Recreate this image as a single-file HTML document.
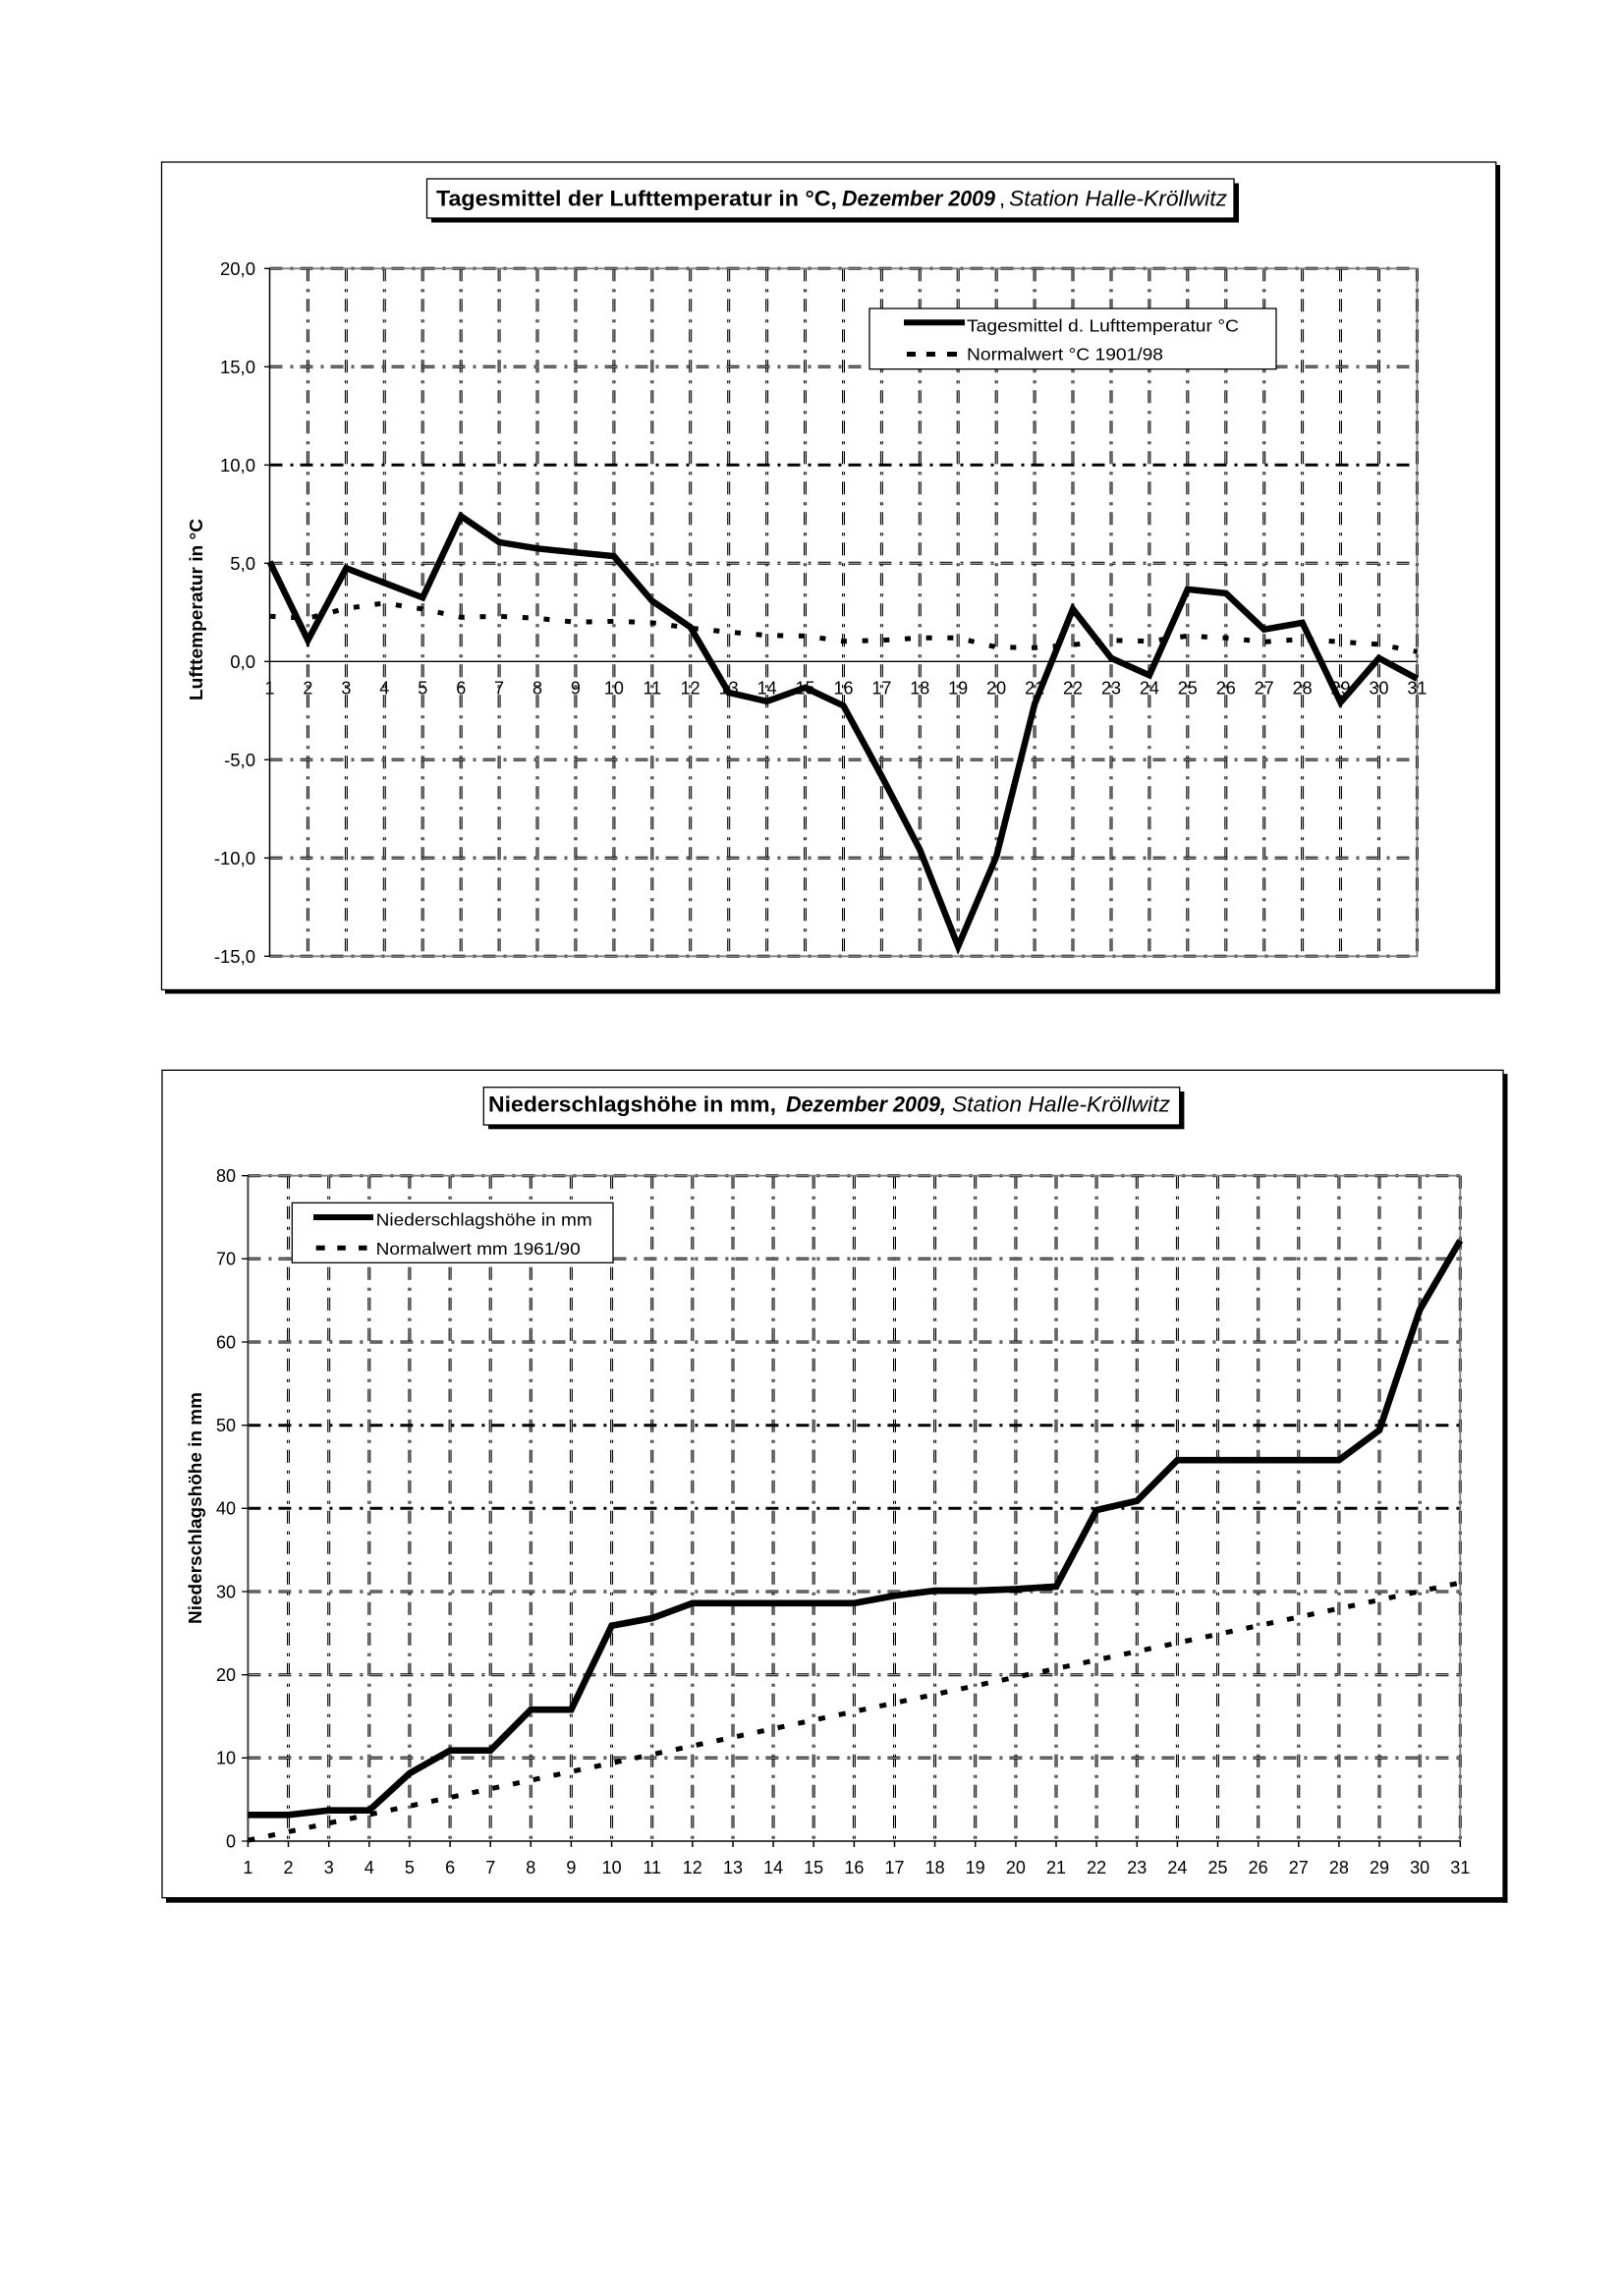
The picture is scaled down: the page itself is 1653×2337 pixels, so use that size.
<!DOCTYPE html>
<html><head><meta charset="utf-8"><style>
html,body{margin:0;padding:0;background:#fff;}
svg{display:block;}
text{font-family:"Liberation Sans",Arial,sans-serif;fill:#000;}
</style></head><body>
<svg width="1653" height="2337" viewBox="0 0 1653 2337" xmlns="http://www.w3.org/2000/svg">
<rect width="1653" height="2337" fill="#fff"/>

<!-- ================= CHART 1 ================= -->
<rect x="168" y="1007.5" width="1359" height="4" fill="#000"/>
<rect x="1522.7" y="168" width="4.3" height="843.5" fill="#000"/>
<rect x="164.5" y="165" width="1358.2" height="842.5" fill="#fff" stroke="#000" stroke-width="1.3"/>

<!-- title -->
<rect x="439" y="186.5" width="822" height="40" fill="#000"/>
<rect x="434.5" y="182" width="821.5" height="40" fill="#fff" stroke="#000" stroke-width="1.3"/>
<text x="444" y="209.5" font-size="22" font-weight="bold" textLength="408" lengthAdjust="spacingAndGlyphs">Tagesmittel der Lufttemperatur in °C,</text>
<text x="857" y="209.5" font-size="22" font-weight="bold" font-style="italic" textLength="156" lengthAdjust="spacingAndGlyphs">Dezember 2009</text>
<text x="1017" y="209.5" font-size="22">,</text>
<text x="1027" y="209.5" font-size="22" font-style="italic" textLength="222" lengthAdjust="spacingAndGlyphs">Station Halle-Kröllwitz</text>

<!-- grid verticals chart 1 -->
<g fill="none" stroke-dasharray="13 8 3 7">
<path id="v1" d="M313.4 273.3V973.3M352.4 273.3V973.3M391.3 273.3V973.3M430.2 273.3V973.3M469.2 273.3V973.3M508.1 273.3V973.3M547 273.3V973.3M585.9 273.3V973.3M624.9 273.3V973.3M663.8 273.3V973.3M702.7 273.3V973.3M741.7 273.3V973.3M780.6 273.3V973.3M819.5 273.3V973.3M858.5 273.3V973.3M897.4 273.3V973.3M936.3 273.3V973.3M975.2 273.3V973.3M1014.2 273.3V973.3M1053.1 273.3V973.3M1092 273.3V973.3M1131 273.3V973.3M1169.9 273.3V973.3M1208.8 273.3V973.3M1247.8 273.3V973.3M1286.7 273.3V973.3M1325.6 273.3V973.3M1364.5 273.3V973.3M1403.5 273.3V973.3M1442.4 273.3V973.3" stroke="#000" stroke-width="3"/>
<path d="M313.4 273.3V973.3M352.4 273.3V973.3M391.3 273.3V973.3M430.2 273.3V973.3M469.2 273.3V973.3M508.1 273.3V973.3M547 273.3V973.3M585.9 273.3V973.3M624.9 273.3V973.3M663.8 273.3V973.3M702.7 273.3V973.3M741.7 273.3V973.3M780.6 273.3V973.3M819.5 273.3V973.3M858.5 273.3V973.3M897.4 273.3V973.3M936.3 273.3V973.3M975.2 273.3V973.3M1014.2 273.3V973.3M1053.1 273.3V973.3M1092 273.3V973.3M1131 273.3V973.3M1169.9 273.3V973.3M1208.8 273.3V973.3M1247.8 273.3V973.3M1286.7 273.3V973.3M1325.6 273.3V973.3M1364.5 273.3V973.3M1403.5 273.3V973.3" stroke="#c8c8c8" stroke-width="1"/>
<!-- horizontals -->
<path d="M274.5 273.3H1442.4M274.5 373.3H1442.4M274.5 473.3H1442.4M274.5 573.3H1442.4M274.5 773.3H1442.4M274.5 873.3H1442.4M274.5 973.3H1442.4" stroke="#000" stroke-width="3"/>
<path d="M274.5 373.3H1442.4M274.5 573.3H1442.4M274.5 773.3H1442.4M274.5 873.3H1442.4" stroke="#c8c8c8" stroke-width="1"/>
</g>
<!-- plot border -->
<path d="M274.5 273.3H1442.4V973.3H274.5" fill="none" stroke="#808080" stroke-width="1.8"/>
<path d="M274.5 273.3V973.3" stroke="#000" stroke-width="1.5"/>
<path d="M274.5 673.3H1442.4" stroke="#000" stroke-width="1.3"/>
<!-- y ticks -->
<path d="M269 273.3H275M269 373.3H275M269 473.3H275M269 573.3H275M269 673.3H275M269 773.3H275M269 873.3H275M269 973.3H275" stroke="#000" stroke-width="1.3"/>
<g font-size="18.5" text-anchor="end">
<text x="260" y="280">20,0</text>
<text x="260" y="380">15,0</text>
<text x="260" y="480">10,0</text>
<text x="260" y="580">5,0</text>
<text x="260" y="680">0,0</text>
<text x="260" y="780">-5,0</text>
<text x="260" y="880">-10,0</text>
<text x="260" y="980">-15,0</text>
</g>
<text transform="translate(206,620.5) rotate(-90)" font-size="18" font-weight="bold" text-anchor="middle" textLength="185" lengthAdjust="spacingAndGlyphs">Lufttemperatur in °C</text>

<!-- series chart 1 -->
<polyline fill="none" stroke="#000" stroke-width="5" stroke-dasharray="6 15.7" points="274.5,627.3 313.4,629.3 352.4,619.3 391.3,613.9 430.2,619.9 469.2,628.3 508.1,627.3 547,629.3 585.9,633.3 624.9,632.3 663.8,633.9 702.7,639.3 741.7,643.3 780.6,646.7 819.5,647.3 858.5,652.7 897.4,651.7 936.3,649.3 975.2,649.3 1014.2,658.7 1053.1,659.3 1092,656.3 1131,651.7 1169.9,652.7 1208.8,647.3 1247.8,649.3 1286.7,653.3 1325.6,650.7 1364.5,653.3 1403.5,655.9 1442.4,663.3"/>
<polyline fill="none" stroke="#000" stroke-width="6.5" stroke-linejoin="miter" stroke-miterlimit="6" points="274.5,571.7 313.4,651.7 352.4,578.3 391.3,593.3 430.2,608.3 469.2,525.3 508.1,551.9 547,558.3 585.9,562.3 624.9,566.1 663.8,611.7 702.7,638.3 741.7,704.9 780.6,713.9 819.5,699.9 858.5,718.3 897.4,789.9 936.3,864.9 975.2,963.3 1014.2,871.7 1053.1,716.7 1092,619.9 1131,669.9 1169.9,687.3 1208.8,599.9 1247.8,603.9 1286.7,640.7 1325.6,633.9 1364.5,714.9 1403.5,669.9 1442.4,690.7"/>

<!-- x labels chart 1 -->
<g font-size="18" text-anchor="middle">
<text x="274.5" y="706.7">1</text><text x="313.4" y="706.7">2</text><text x="352.4" y="706.7">3</text><text x="391.3" y="706.7">4</text><text x="430.2" y="706.7">5</text><text x="469.2" y="706.7">6</text><text x="508.1" y="706.7">7</text><text x="547" y="706.7">8</text><text x="585.9" y="706.7">9</text><text x="624.9" y="706.7">10</text><text x="663.8" y="706.7">11</text><text x="702.7" y="706.7">12</text><text x="741.7" y="706.7">13</text><text x="780.6" y="706.7">14</text><text x="819.5" y="706.7">15</text><text x="858.5" y="706.7">16</text><text x="897.4" y="706.7">17</text><text x="936.3" y="706.7">18</text><text x="975.2" y="706.7">19</text><text x="1014.2" y="706.7">20</text><text x="1053.1" y="706.7">21</text><text x="1092" y="706.7">22</text><text x="1131" y="706.7">23</text><text x="1169.9" y="706.7">24</text><text x="1208.8" y="706.7">25</text><text x="1247.8" y="706.7">26</text><text x="1286.7" y="706.7">27</text><text x="1325.6" y="706.7">28</text><text x="1364.5" y="706.7">29</text><text x="1403.5" y="706.7">30</text><text x="1442.4" y="706.7">31</text>
</g>

<!-- legend chart 1 -->
<rect x="885" y="314" width="414" height="61.7" fill="#fff" stroke="#000" stroke-width="1.3"/>
<path d="M920 328.3H982" stroke="#000" stroke-width="6"/>
<text x="984" y="337.3" font-size="17.2" textLength="277" lengthAdjust="spacingAndGlyphs">Tagesmittel d. Lufttemperatur °C</text>
<rect x="923" y="358" width="9" height="5" fill="#000"/>
<rect x="943" y="358" width="9" height="5" fill="#000"/>
<rect x="964" y="358" width="10" height="5" fill="#000"/>
<text x="984" y="366.7" font-size="17.2" textLength="200" lengthAdjust="spacingAndGlyphs">Normalwert °C 1901/98</text>

<!-- ================= CHART 2 ================= -->
<rect x="169" y="1931.7" width="1365" height="5" fill="#000"/>
<rect x="1530" y="1093" width="4.5" height="843.7" fill="#000"/>
<rect x="165" y="1089.3" width="1365" height="842.4" fill="#fff" stroke="#000" stroke-width="1.3"/>

<rect x="497" y="1111" width="708.4" height="38.3" fill="#000"/>
<rect x="492.3" y="1106.7" width="708.4" height="38.3" fill="#fff" stroke="#000" stroke-width="1.3"/>
<text x="497" y="1131.7" font-size="22" font-weight="bold" textLength="293" lengthAdjust="spacingAndGlyphs">Niederschlagshöhe in mm,</text>
<text x="800" y="1131.7" font-size="22" font-weight="bold" font-style="italic" textLength="163" lengthAdjust="spacingAndGlyphs">Dezember 2009,</text>
<text x="969" y="1131.7" font-size="22" font-style="italic" textLength="222" lengthAdjust="spacingAndGlyphs">Station Halle-Kröllwitz</text>

<g fill="none" stroke-dasharray="13 8 3 7">
<path d="M293.5 1196.7V1874M334.7 1196.7V1874M375.8 1196.7V1874M416.9 1196.7V1874M458.1 1196.7V1874M499.2 1196.7V1874M540.3 1196.7V1874M581.4 1196.7V1874M622.6 1196.7V1874M663.7 1196.7V1874M704.8 1196.7V1874M746 1196.7V1874M787.1 1196.7V1874M828.2 1196.7V1874M869.4 1196.7V1874M910.5 1196.7V1874M951.6 1196.7V1874M992.7 1196.7V1874M1033.9 1196.7V1874M1075 1196.7V1874M1116.1 1196.7V1874M1157.3 1196.7V1874M1198.4 1196.7V1874M1239.5 1196.7V1874M1280.7 1196.7V1874M1321.8 1196.7V1874M1362.9 1196.7V1874M1404 1196.7V1874M1445.2 1196.7V1874M1486.3 1196.7V1874" stroke="#000" stroke-width="3"/>
<path d="M293.5 1196.7V1874M334.7 1196.7V1874M375.8 1196.7V1874M416.9 1196.7V1874M458.1 1196.7V1874M499.2 1196.7V1874M540.3 1196.7V1874M581.4 1196.7V1874M622.6 1196.7V1874M663.7 1196.7V1874M704.8 1196.7V1874M746 1196.7V1874M787.1 1196.7V1874M828.2 1196.7V1874M869.4 1196.7V1874M910.5 1196.7V1874M951.6 1196.7V1874M992.7 1196.7V1874M1033.9 1196.7V1874M1075 1196.7V1874M1116.1 1196.7V1874M1157.3 1196.7V1874M1198.4 1196.7V1874M1239.5 1196.7V1874M1280.7 1196.7V1874M1321.8 1196.7V1874M1362.9 1196.7V1874M1404 1196.7V1874M1445.2 1196.7V1874" stroke="#c8c8c8" stroke-width="1"/>
<path d="M252.4 1196.7H1486.3M252.4 1281.3H1486.3M252.4 1366H1486.3M252.4 1450.7H1486.3M252.4 1535.3H1486.3M252.4 1620H1486.3M252.4 1704.7H1486.3M252.4 1789.3H1486.3" stroke="#000" stroke-width="3"/>
<path d="M252.4 1281.3H1486.3M252.4 1366H1486.3M252.4 1620H1486.3M252.4 1704.7H1486.3M252.4 1789.3H1486.3" stroke="#c8c8c8" stroke-width="1"/>
</g>
<path d="M252.4 1196.7H1486.3V1874" fill="none" stroke="#808080" stroke-width="1.8"/>
<path d="M252.4 1196.7V1874H1486.3" fill="none" stroke="#444" stroke-width="2"/>
<path d="M246 1196.7H253M246 1281.3H253M246 1366H253M246 1450.7H253M246 1535.3H253M246 1620H253M246 1704.7H253M246 1789.3H253M246 1874H253" stroke="#000" stroke-width="1.3"/>
<path d="M252.4 1874V1880M293.5 1874V1880M334.7 1874V1880M375.8 1874V1880M416.9 1874V1880M458.1 1874V1880M499.2 1874V1880M540.3 1874V1880M581.4 1874V1880M622.6 1874V1880M663.7 1874V1880M704.8 1874V1880M746 1874V1880M787.1 1874V1880M828.2 1874V1880M869.4 1874V1880M910.5 1874V1880M951.6 1874V1880M992.7 1874V1880M1033.9 1874V1880M1075 1874V1880M1116.1 1874V1880M1157.3 1874V1880M1198.4 1874V1880M1239.5 1874V1880M1280.7 1874V1880M1321.8 1874V1880M1362.9 1874V1880M1404 1874V1880M1445.2 1874V1880M1486.3 1874V1880" stroke="#000" stroke-width="1.5"/>

<g font-size="18" text-anchor="end">
<text x="240" y="1203">80</text>
<text x="240" y="1287.6">70</text>
<text x="240" y="1372.3">60</text>
<text x="240" y="1457">50</text>
<text x="240" y="1541.6">40</text>
<text x="240" y="1626.3">30</text>
<text x="240" y="1711">20</text>
<text x="240" y="1795.6">10</text>
<text x="240" y="1880.3">0</text>
</g>
<text transform="translate(205,1535) rotate(-90)" font-size="18" font-weight="bold" text-anchor="middle" textLength="236" lengthAdjust="spacingAndGlyphs">Niederschlagshöhe in mm</text>

<g font-size="18" text-anchor="middle">
<text x="252.4" y="1907">1</text><text x="293.5" y="1907">2</text><text x="334.7" y="1907">3</text><text x="375.8" y="1907">4</text><text x="416.9" y="1907">5</text><text x="458.1" y="1907">6</text><text x="499.2" y="1907">7</text><text x="540.3" y="1907">8</text><text x="581.4" y="1907">9</text><text x="622.6" y="1907">10</text><text x="663.7" y="1907">11</text><text x="704.8" y="1907">12</text><text x="746" y="1907">13</text><text x="787.1" y="1907">14</text><text x="828.2" y="1907">15</text><text x="869.4" y="1907">16</text><text x="910.5" y="1907">17</text><text x="951.6" y="1907">18</text><text x="992.7" y="1907">19</text><text x="1033.9" y="1907">20</text><text x="1075" y="1907">21</text><text x="1116.1" y="1907">22</text><text x="1157.3" y="1907">23</text><text x="1198.4" y="1907">24</text><text x="1239.5" y="1907">25</text><text x="1280.7" y="1907">26</text><text x="1321.8" y="1907">27</text><text x="1362.9" y="1907">28</text><text x="1404" y="1907">29</text><text x="1445.2" y="1907">30</text><text x="1486.3" y="1907">31</text>
</g>

<line x1="252.4" y1="1873.2" x2="1486.3" y2="1611" stroke="#000" stroke-width="5" stroke-dasharray="7 14.2"/>
<polyline fill="none" stroke="#000" stroke-width="6.7" stroke-linejoin="miter" points="252.4,1847.3 293.5,1847.3 334.7,1842.7 375.8,1842.7 416.9,1805 458.1,1781.7 499.2,1781.7 540.3,1740.2 581.4,1740.2 622.6,1654.7 663.7,1647.1 704.8,1631.8 746,1631.8 787.1,1631.8 828.2,1631.8 869.4,1631.8 910.5,1624.2 951.6,1619.1 992.7,1619.1 1033.9,1617.5 1075,1614.9 1116.1,1537 1157.3,1527.7 1198.4,1486.2 1239.5,1486.2 1280.7,1486.2 1321.8,1486.2 1362.9,1486.2 1404,1455.7 1445.2,1333 1486.3,1262.7"/>

<rect x="297.3" y="1224.3" width="326.7" height="61" fill="#fff" stroke="#000" stroke-width="1.3"/>
<path d="M319 1239H380" stroke="#000" stroke-width="6"/>
<text x="382.7" y="1247.5" font-size="17.7" textLength="220" lengthAdjust="spacingAndGlyphs">Niederschlagshöhe in mm</text>
<rect x="321.7" y="1267.7" width="9" height="5" fill="#000"/>
<rect x="343.3" y="1267.7" width="8.5" height="5" fill="#000"/>
<rect x="365" y="1267.7" width="8.5" height="5" fill="#000"/>
<text x="382.7" y="1277" font-size="17.7" textLength="208" lengthAdjust="spacingAndGlyphs">Normalwert mm 1961/90</text>

</svg>
</body></html>
